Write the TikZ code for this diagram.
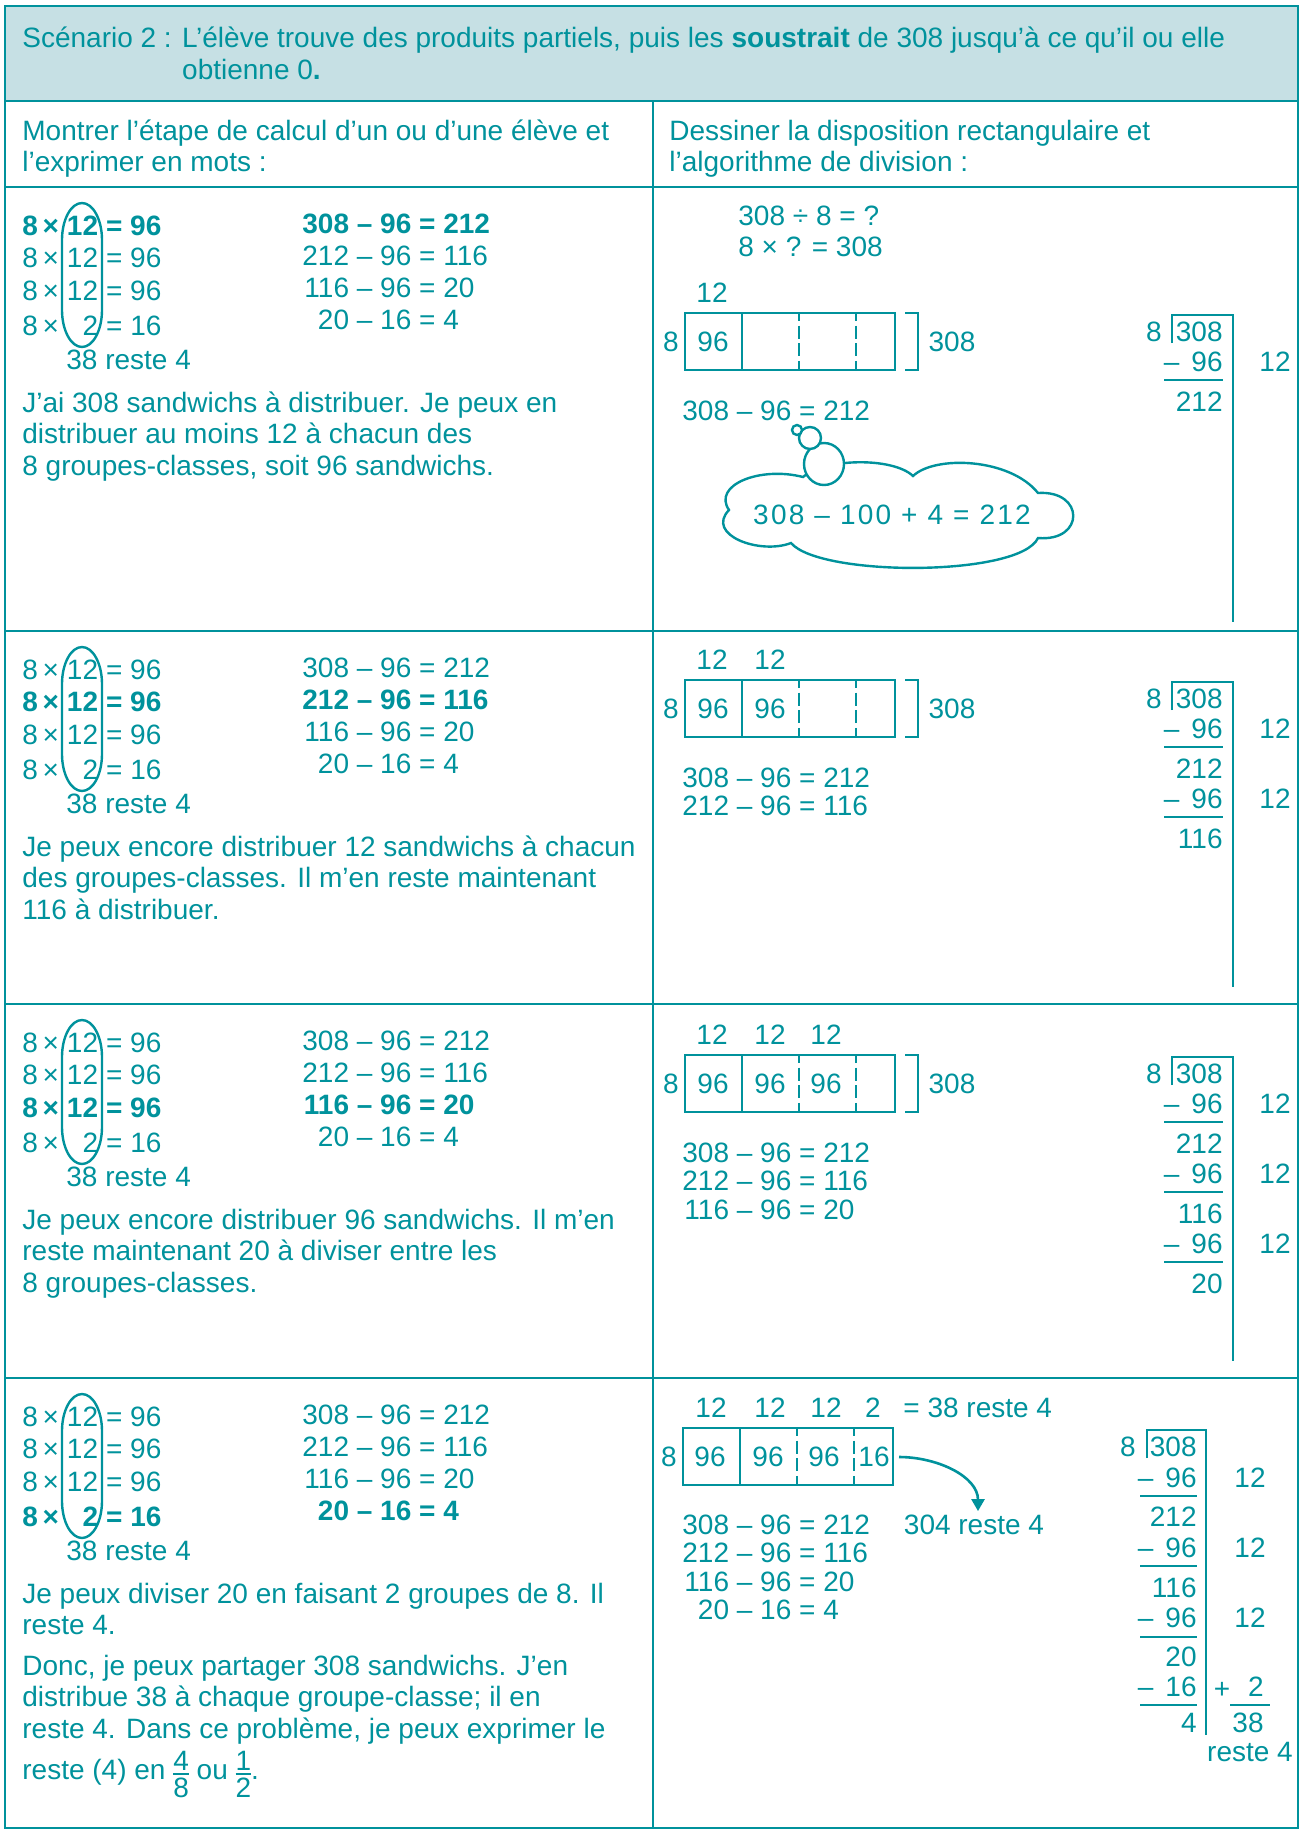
\documentclass[tikz,border=0pt]{standalone}
\usepackage{amsmath}
\usepackage{fontspec}
\setmainfont{Liberation Sans}
\newfontfamily\spacedfont[LetterSpace=8]{Liberation Sans}
\usepackage{xcolor}
\usetikzlibrary{arrows.meta}
\definecolor{tealLine}{RGB}{0,146,156}
\definecolor{headFill}{RGB}{198,224,228}
\newcommand{\smallfrac}[2]{\smash{\raisebox{-9pt}{\vbox{\fontsize{14}{14}\selectfont\offinterlineskip
  \halign{\hfil##\hfil\cr #1\cr\noalign{\kern1.5pt\hrule height 0.9pt\kern1.5pt}#2\cr}}}}}

\begin{document}
\begin{tikzpicture}[x=0.5pt, y=-0.5pt,
  every node/.style={text=tealLine, inner sep=0pt, font=\fontsize{14}{15.75}\selectfont},
  txt/.style={anchor=base west},
  num/.style={anchor=east},
  frame/.style={draw=tealLine, line width=1.4pt},
  oval/.style={draw=tealLine, line width=1.2pt},
  cellbox/.style={draw=tealLine, line width=1.3pt},
  cut/.style={draw=tealLine, line width=1.4pt, dash pattern=on 6.5pt off 2.3pt, dash phase=2.5pt},
  divline/.style={draw=tealLine, line width=1.3pt},
  bubble/.style={draw=tealLine, line width=1.2pt},
  arrow/.style={draw=tealLine, line width=1.3pt, -{Triangle[length=6pt,width=6.5pt]}}
]
  \useasboundingbox (0,0) rectangle (1301,1831);

  % table
  \fill[headFill] (5,6) rectangle (1298,101);
  \draw[frame] (5,6) rectangle (1298,1828);
  \draw[frame] (5,101) -- (1298,101);
  \draw[frame] (5,187) -- (1298,187);
  \draw[frame] (5,631) -- (1298,631);
  \draw[frame] (5,1004) -- (1298,1004);
  \draw[frame] (5,1378) -- (1298,1378);
  \draw[frame] (653,101) -- (653,1828);

  \node[txt] (title) at (22,47) {\renewcommand{\arraystretch}{1.02}\begin{tabular}[t]{@{}l@{ }l@{}}
    Scénario 2 : & L’élève trouve des produits partiels, puis les \textbf{soustrait} de 308 jusqu’à ce qu’il ou elle\\
    & obtienne 0\textbf{.}\end{tabular}};
  \node[txt] (colL) at (22,140) {\begin{tabular}[t]{@{}l@{}}Montrer l’étape de calcul d’un ou d’une élève et\\ l’exprimer en mots :\end{tabular}};
  \node[txt] (colR) at (669,140) {\begin{tabular}[t]{@{}l@{}}Dessiner la disposition rectangulaire et\\ l’algorithme de division :\end{tabular}};

  % row 1
  \node[txt] (prodA) at (22,235) {\renewcommand{\arraystretch}{1.04}\begin{tabular}[t]{@{}l@{\hspace{4pt}}r@{\hspace{4pt}}l@{}}
    \textbf{8\,×} & \textbf{12} & \textbf{= 96}\\
    8\,× & 12 & = 96\\
    8\,× & 12 & = 96\\[1pt]
    8\,× & 2 & = 16\end{tabular}};
  \node[txt] (restA) at (66,369) {38 reste 4};
  \draw[oval] (102,240) arc [start angle=0, end angle=-180, x radius=20, y radius=37]
    -- (62,310) arc [start angle=180, end angle=0, x radius=20, y radius=37] -- cycle;
  \node[txt] (subA) at (302,233) {\renewcommand{\arraystretch}{1.016}\begin{tabular}[t]{@{}r@{}l@{}}
    \textbf{308} & \textbf{\ – 96 = 212}\\
    212 & \ – 96 = 116\\
    116 & \ – 96 = 20\\
    20 & \ – 16 = 4\end{tabular}};
  \node[txt] (textA) at (22,412) {\begin{tabular}[t]{@{}l@{}}J’ai 308 sandwichs à distribuer. Je peux en\\ distribuer au moins 12 à chacun des\\ 8 groupes-classes, soit 96 sandwichs.\end{tabular}};

  \node[txt] (askA) at (738,225) {\begin{tabular}[t]{@{}l@{}}308 ÷ 8 = ?\\ 8 × ? = 308\end{tabular}};
  \node (topA1) at (712,293) {12};
  \draw[cellbox] (685,313) rectangle (895,370);
  \draw[cellbox] (742,313) -- (742,370);
  \draw[cut] (799,313) -- (799,370);
  \draw[cut] (856,313) -- (856,370);
  \node (sideA) at (671,342) {8};
  \node (cellA1) at (713,342) {96};
  \draw[divline] (905,313) -- (918,313) -- (918,370) -- (905,370);
  \node (totA) at (952,342) {308};
  \node[txt] (eqA) at (682,420) {\begin{tabular}[t]{@{}r@{}l@{}}308 & \ – 96 = 212\end{tabular}};

  \draw[bubble] (803,477) .. controls (825,458) and (893,457) .. (913,476)
    .. controls (935,455) and (1010,458) .. (1038,493)
    .. controls (1085,490) and (1085,542) .. (1038,538)
    .. controls (1020,577) and (820,577) .. (791,543)
    .. controls (760,555) and (705,535) .. (729,510)
    .. controls (712,485) and (760,466) .. (803,477) -- cycle;
  \draw[bubble, fill=white] (824,464) ellipse [x radius=20, y radius=21];
  \draw[bubble, fill=white] (810,438) circle [radius=11];
  \draw[bubble, fill=white] (797,430) circle [radius=5];
  \node (thought) at (892,515) {\spacedfont 308 – 100 + 4 = 212};

  \node[num] (dvA) at (1162,332) {8};
  \draw[divline] (1172,343) -- (1172,315) -- (1233,315) -- (1233,622);
  \node[num] (dA0) at (1223,332) {308};
  \node[num] (dA1) at (1223,362) {–\hspace{6pt}96};
  \draw[divline] (1164,380) -- (1223,380);
  \node[num] (dA2) at (1223,402) {212};
  \node (qA1) at (1275,362) {12};

  % row 2
  \node[txt] (prodB) at (22,679) {\renewcommand{\arraystretch}{1.04}\begin{tabular}[t]{@{}l@{\hspace{4pt}}r@{\hspace{4pt}}l@{}}
    8\,× & 12 & = 96\\
    \textbf{8\,×} & \textbf{12} & \textbf{= 96}\\
    8\,× & 12 & = 96\\[1pt]
    8\,× & 2 & = 16\end{tabular}};
  \node[txt] (restB) at (66,813) {38 reste 4};
  \draw[oval] (102,684) arc [start angle=0, end angle=-180, x radius=20, y radius=37]
    -- (62,754) arc [start angle=180, end angle=0, x radius=20, y radius=37] -- cycle;
  \node[txt] (subB) at (302,677) {\renewcommand{\arraystretch}{1.016}\begin{tabular}[t]{@{}r@{}l@{}}
    308 & \ – 96 = 212\\
    \textbf{212} & \textbf{\ – 96 = 116}\\
    116 & \ – 96 = 20\\
    20 & \ – 16 = 4\end{tabular}};
  \node[txt] (textB) at (22,856) {\begin{tabular}[t]{@{}l@{}}Je peux encore distribuer 12 sandwichs à chacun\\ des groupes-classes. Il m’en reste maintenant\\ 116 à distribuer.\end{tabular}};

  \node (topB1) at (712,660) {12};
  \node (topB2) at (770,660) {12};
  \draw[cellbox] (685,680) rectangle (895,737);
  \draw[cellbox] (742,680) -- (742,737);
  \draw[cut] (799,680) -- (799,737);
  \draw[cut] (856,680) -- (856,737);
  \node (sideB) at (671,709) {8};
  \node (cellB1) at (713,709) {96};
  \node (cellB2) at (770,709) {96};
  \draw[divline] (905,680) -- (918,680) -- (918,737) -- (905,737);
  \node (totB) at (952,709) {308};
  \node[txt] (eqB) at (682,787) {\renewcommand{\arraystretch}{0.905}\begin{tabular}[t]{@{}r@{}l@{}}308 & \ – 96 = 212\\ 212 & \ – 96 = 116\end{tabular}};

  \node[num] (dvB) at (1162,699) {8};
  \draw[divline] (1172,710) -- (1172,682) -- (1233,682) -- (1233,987);
  \node[num] (dB0) at (1223,699) {308};
  \node[num] (dB1) at (1223,729) {–\hspace{6pt}96};
  \draw[divline] (1164,747) -- (1223,747);
  \node[num] (dB2) at (1223,769) {212};
  \node[num] (dB3) at (1223,799) {–\hspace{6pt}96};
  \draw[divline] (1164,817) -- (1223,817);
  \node[num] (dB4) at (1223,839) {116};
  \node (qB1) at (1275,729) {12};
  \node (qB2) at (1275,799) {12};

  % row 3
  \node[txt] (prodC) at (22,1052) {\renewcommand{\arraystretch}{1.04}\begin{tabular}[t]{@{}l@{\hspace{4pt}}r@{\hspace{4pt}}l@{}}
    8\,× & 12 & = 96\\
    8\,× & 12 & = 96\\
    \textbf{8\,×} & \textbf{12} & \textbf{= 96}\\[1pt]
    8\,× & 2 & = 16\end{tabular}};
  \node[txt] (restC) at (66,1186) {38 reste 4};
  \draw[oval] (102,1057) arc [start angle=0, end angle=-180, x radius=20, y radius=37]
    -- (62,1127) arc [start angle=180, end angle=0, x radius=20, y radius=37] -- cycle;
  \node[txt] (subC) at (302,1050) {\renewcommand{\arraystretch}{1.016}\begin{tabular}[t]{@{}r@{}l@{}}
    308 & \ – 96 = 212\\
    212 & \ – 96 = 116\\
    \textbf{116} & \textbf{\ – 96 = 20}\\
    20 & \ – 16 = 4\end{tabular}};
  \node[txt] (textC) at (22,1229) {\begin{tabular}[t]{@{}l@{}}Je peux encore distribuer 96 sandwichs. Il m’en\\ reste maintenant 20 à diviser entre les\\ 8 groupes-classes.\end{tabular}};

  \node (topC1) at (712,1035) {12};
  \node (topC2) at (770,1035) {12};
  \node (topC3) at (826,1035) {12};
  \draw[cellbox] (685,1055) rectangle (895,1112);
  \draw[cellbox] (742,1055) -- (742,1112);
  \draw[cut] (799,1055) -- (799,1112);
  \draw[cut] (856,1055) -- (856,1112);
  \node (sideC) at (671,1084) {8};
  \node (cellC1) at (713,1084) {96};
  \node (cellC2) at (770,1084) {96};
  \node (cellC3) at (826,1084) {96};
  \draw[divline] (905,1055) -- (918,1055) -- (918,1112) -- (905,1112);
  \node (totC) at (952,1084) {308};
  \node[txt] (eqC) at (682,1162) {\renewcommand{\arraystretch}{0.905}\begin{tabular}[t]{@{}r@{}l@{}}308 & \ – 96 = 212\\ 212 & \ – 96 = 116\\ 116 & \ – 96 = 20\end{tabular}};

  \node[num] (dvC) at (1162,1074) {8};
  \draw[divline] (1172,1085) -- (1172,1057) -- (1233,1057) -- (1233,1361);
  \node[num] (dC0) at (1223,1074) {308};
  \node[num] (dC1) at (1223,1104) {–\hspace{6pt}96};
  \draw[divline] (1164,1122) -- (1223,1122);
  \node[num] (dC2) at (1223,1144) {212};
  \node[num] (dC3) at (1223,1174) {–\hspace{6pt}96};
  \draw[divline] (1164,1192) -- (1223,1192);
  \node[num] (dC4) at (1223,1214) {116};
  \node[num] (dC5) at (1223,1244) {–\hspace{6pt}96};
  \draw[divline] (1164,1262) -- (1223,1262);
  \node[num] (dC6) at (1223,1284) {20};
  \node (qC1) at (1275,1104) {12};
  \node (qC2) at (1275,1174) {12};
  \node (qC3) at (1275,1244) {12};

  % row 4
  \node[txt] (prodD) at (22,1426) {\renewcommand{\arraystretch}{1.04}\begin{tabular}[t]{@{}l@{\hspace{4pt}}r@{\hspace{4pt}}l@{}}
    8\,× & 12 & = 96\\
    8\,× & 12 & = 96\\
    8\,× & 12 & = 96\\[1pt]
    \textbf{8\,×} & \textbf{2} & \textbf{= 16}\end{tabular}};
  \node[txt] (restD) at (66,1560) {38 reste 4};
  \draw[oval] (102,1431) arc [start angle=0, end angle=-180, x radius=20, y radius=37]
    -- (62,1501) arc [start angle=180, end angle=0, x radius=20, y radius=37] -- cycle;
  \node[txt] (subD) at (302,1424) {\renewcommand{\arraystretch}{1.016}\begin{tabular}[t]{@{}r@{}l@{}}
    308 & \ – 96 = 212\\
    212 & \ – 96 = 116\\
    116 & \ – 96 = 20\\
    \textbf{20} & \textbf{\ – 16 = 4}\end{tabular}};
  \node[txt] (textD) at (22,1603) {\begin{tabular}[t]{@{}l@{}}Je peux diviser 20 en faisant 2 groupes de 8. Il\\ reste 4.\end{tabular}};
  \node[txt] (textE) at (22,1675) {\begin{tabular}[t]{@{}l@{}}Donc, je peux partager 308 sandwichs. J’en\\ distribue 38 à chaque groupe-classe; il en\\ reste 4. Dans ce problème, je peux exprimer le\\[5pt]
    reste (4) en \smallfrac{4}{8} ou \smallfrac{1}{2}.\end{tabular}};

  \node (topD1) at (711,1408) {12};
  \node (topD2) at (770,1408) {12};
  \node (topD3) at (826,1408) {12};
  \node (topD4) at (873,1408) {2};
  \node[anchor=west] (sumD) at (903,1408) {= 38 reste 4};
  \draw[cellbox] (683,1428) rectangle (893,1485);
  \draw[cellbox] (740,1428) -- (740,1485);
  \draw[cut] (797,1428) -- (797,1485);
  \draw[cut] (854,1428) -- (854,1485);
  \node (sideD) at (669,1457) {8};
  \node (cellD1) at (710,1457) {96};
  \node (cellD2) at (768,1457) {96};
  \node (cellD3) at (824,1457) {96};
  \node (cellD4) at (874,1457) {16};
  \coordinate (arrfrom) at (899,1457);
  \node (remD) at (974,1525) {304 reste 4};
  \draw[arrow, shorten >=1.8pt] (arrfrom) to[out=0, in=90] ([xshift=2pt]remD.north);
  \node[txt] (eqD) at (682,1534) {\renewcommand{\arraystretch}{0.905}\begin{tabular}[t]{@{}r@{}l@{}}308 & \ – 96 = 212\\ 212 & \ – 96 = 116\\ 116 & \ – 96 = 20\\ 20 & \ – 16 = 4\end{tabular}};

  \node[num] (dvD) at (1136,1447) {8};
  \draw[divline] (1147,1458) -- (1147,1430) -- (1206,1430) -- (1206,1735);
  \node[num] (dD0) at (1197,1447) {308};
  \node[num] (dD1) at (1197,1478) {–\hspace{6pt}96};
  \draw[divline] (1140,1496) -- (1197,1496);
  \node[num] (dD2) at (1197,1517) {212};
  \node[num] (dD3) at (1197,1548) {–\hspace{6pt}96};
  \draw[divline] (1140,1566) -- (1197,1566);
  \node[num] (dD4) at (1197,1588) {116};
  \node[num] (dD5) at (1197,1618) {–\hspace{6pt}96};
  \draw[divline] (1140,1637) -- (1197,1637);
  \node[num] (dD6) at (1197,1657) {20};
  \node[num] (dD7) at (1197,1687) {–\hspace{6pt}16};
  \draw[divline] (1140,1705) -- (1197,1705);
  \node[num] (dD8) at (1197,1723) {4};
  \node (qD1) at (1250,1478) {12};
  \node (qD2) at (1250,1548) {12};
  \node (qD3) at (1250,1618) {12};
  \node (plusD) at (1222,1690) {+};
  \node[num] (qD4) at (1264,1687) {2};
  \draw[divline] (1230,1705) -- (1270,1705);
  \node[num] (qD5) at (1264,1723) {38};
  \node (remQ) at (1250,1752) {reste 4};
\end{tikzpicture}
\end{document}
